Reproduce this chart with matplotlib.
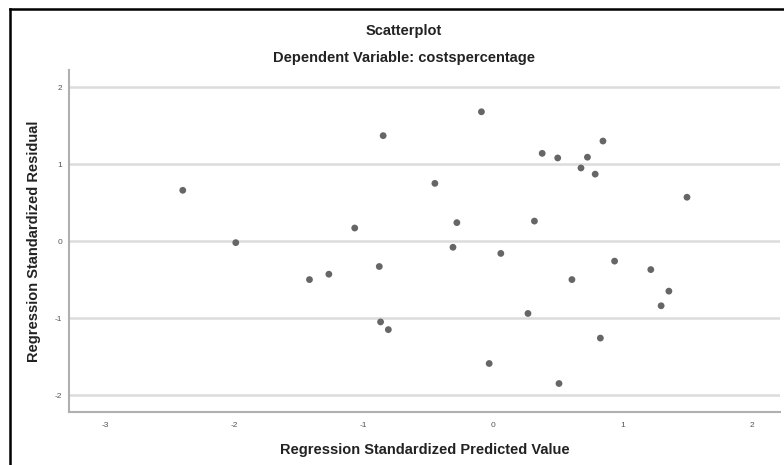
import matplotlib
matplotlib.use("Agg")
import matplotlib.pyplot as plt
from matplotlib.lines import Line2D

# Standardized predicted values (x) and standardized residuals (y)
pred = [-2.40, -1.99, -1.42, -1.27, -1.07, -0.88, -0.87, -0.81, -0.85, -0.45,
        -0.09, -0.28, -0.31, 0.06, 0.32, 0.38, 0.50, 0.68, 0.73, 0.79,
        0.85, 1.50, 0.61, 0.94, 1.22, 1.36, 1.30, 0.27, 0.83, -0.03, 0.51]
resid = [0.66, -0.02, -0.50, -0.43, 0.17, -0.33, -1.05, -1.15, 1.37, 0.75,
         1.68, 0.24, -0.08, -0.16, 0.26, 1.14, 1.08, 0.95, 1.09, 0.87,
         1.30, 0.57, -0.50, -0.26, -0.37, -0.65, -0.84, -0.94, -1.26, -1.59, -1.85]

xticks = [-3, -2, -1, 0, 1, 2]
yticks = [-2, -1, 0, 1, 2]

plt.rcParams['font.family'] = ['Liberation Sans', 'DejaVu Sans']
plt.rcParams['axes.unicode_minus'] = False

fig = plt.figure(figsize=(7.84, 4.65), dpi=100)
ax = fig.add_axes([0.088, 0.114, 0.907, 0.735])

ax.scatter(pred, resid, s=24, color='#666666', edgecolors='none', zorder=3)

ax.set_xlim(-3.28, 2.22)
ax.set_ylim(-2.22, 2.22)
ax.set_xticks(xticks)
ax.set_yticks(yticks)
ax.tick_params(length=0, labelsize=6, labelcolor='#555555')
ax.tick_params(axis='x', pad=7)
ax.tick_params(axis='y', pad=5)

ax.grid(axis='y', color='#dcdcdc', linewidth=1.8)
ax.set_axisbelow(True)
for side in ['top', 'right']:
    ax.spines[side].set_visible(False)
for side in ['left', 'bottom']:
    ax.spines[side].set_color('#b0b0b0')
    ax.spines[side].set_linewidth(1.5)

ax.set_xlabel("Regression Standardized Predicted Value", fontsize=10.5,
              fontweight='bold', color='#222222', labelpad=10)
ax.set_ylabel("Regression Standardized Residual", fontsize=10.5,
              fontweight='bold', color='#222222', labelpad=10)

fig.text(0.515, 0.933, "Scatterplot", ha='center', va='center', fontsize=10.5,
         fontweight='bold', color='#222222')
fig.text(0.515, 0.875, "Dependent Variable: costspercentage", ha='center',
         va='center', fontsize=10.5, fontweight='bold', color='#222222')

# black frame around the chart (top and left edges visible)
fig.add_artist(Line2D([0.013, 1.0], [0.981, 0.981], color='black', linewidth=1.8,
                      transform=fig.transFigure))
fig.add_artist(Line2D([0.013, 0.013], [0.0, 0.981], color='black', linewidth=1.8,
                      transform=fig.transFigure))

fig.savefig("out.png", dpi=100)
